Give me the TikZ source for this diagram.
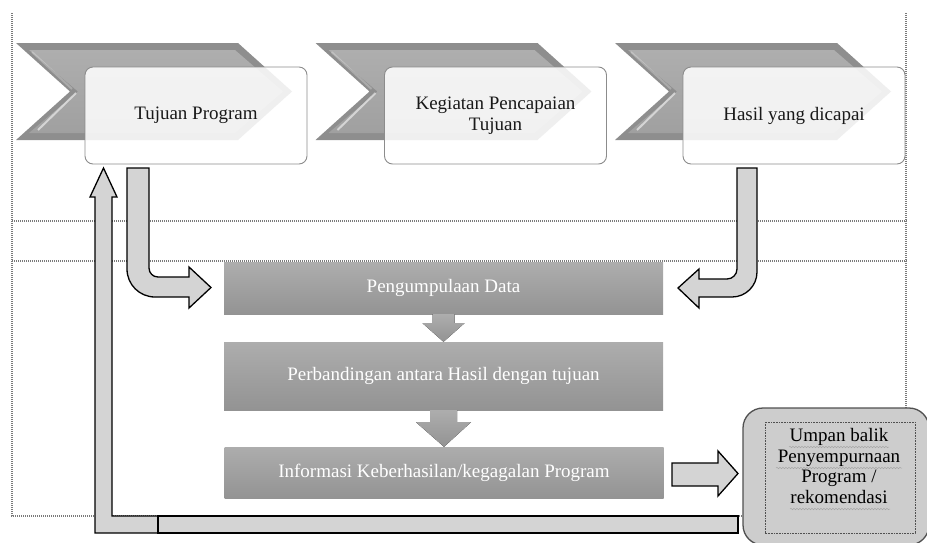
\documentclass[tikz,border=0pt]{standalone}
\usepackage{fontspec}
\setmainfont{Liberation Serif}
\usetikzlibrary{calc,decorations.pathmorphing}
\definecolor{chevdark}{HTML}{8E8E8E}
\definecolor{chevtop}{HTML}{AEAEAE}
\definecolor{chevbot}{HTML}{A0A0A0}
\definecolor{boxtop}{HTML}{ADADAD}
\definecolor{boxbot}{HTML}{939393}
\definecolor{lightarrow}{HTML}{D4D4D4}
\definecolor{umpanfill}{HTML}{CDCDCD}
\definecolor{umpanline}{HTML}{505050}
\definecolor{frameline}{HTML}{7A7A7A}
\definecolor{whiteline}{HTML}{8C8C8C}
\begin{document}
\begin{tikzpicture}[x=1pt,y=-1pt,
  txt/.style={font=\fontsize{19}{20.5}\selectfont},
  dotline/.style={draw=frameline, line width=1.1pt, dash pattern=on 1pt off 1pt},
  whitebox/.style={txt, draw=whiteline, line width=0.9pt, rounded corners=8pt,
     fill=white, fill opacity=0.86, text opacity=1, text=black!90,
     minimum width=222pt, minimum height=97pt, align=center, inner sep=0pt},
  graybox/.style={txt, top color=boxtop, bottom color=boxbot, text=white,
     minimum width=439pt, align=center, inner sep=0pt},
  blockarrow/.style={fill=lightarrow, draw=black, line width=1.3pt, line join=miter},
  downarrow/.style={top color=boxtop, bottom color=boxbot},
  squiggle/.style={draw=gray!70, line width=0.5pt, decorate,
     decoration={snake, amplitude=0.7pt, segment length=3pt}}
]
\useasboundingbox (0,0) rectangle (927,542);

% frame and guide lines
\draw[dotline] (12,13) -- (12,516) -- (743,516);
\draw[dotline] (906,13) -- (906,408);
\draw[dotline] (12,221) -- (907,221);
\draw[dotline] (12,261) -- (907,261);

% chevrons
\foreach \ox in {0,299.5,599}{
  \begin{scope}[xshift=\ox pt]
    \fill[chevdark] (16,43) -- (238,43) -- (292,91.5) -- (238,140) -- (16,140) -- (70,91.5) -- cycle;
    \shade[top color=chevtop, bottom color=chevbot] (29,50) -- (235,50) -- (283,91.5) -- (235,133) -- (29,133) -- (78,91.5) -- cycle;
    \draw[white, opacity=0.55, line width=2pt] (38,130) -- (76,93);
    \draw[white, opacity=0.25, line width=2pt] (32,52) -- (72,89);
  \end{scope}
}

% white boxes
\node[whitebox] (c1) at (196,115.5) {Tujuan Program};
\node[whitebox] (c2) at (495.5,115.5) {Kegiatan Pencapaian\\Tujuan};
\node[whitebox] (c3) at (794,115.5) {Hasil yang dicapai};

% gray process boxes
\node[graybox, minimum height=52pt] (g1) at (443.5,288) {Pengumpulaan Data};
\node[graybox, minimum height=68pt] (g2) at (443.5,376) {Perbandingan antara Hasil dengan tujuan};
\node[graybox, minimum height=51pt] (g3) at (444,472.5) {Informasi Keberhasilan/kegagalan Program};

% down arrows between process boxes
\fill[downarrow] ($(g1.south)+(-11,0)$) -- ($(g1.south)+(11,0)$) -- ($(g1.south)+(11,9)$)
  -- ($(g1.south)+(21,9)$) -- (g2.north) -- ($(g1.south)+(-21,9)$) -- ($(g1.south)+(-11,9)$) -- cycle;
\fill[downarrow] ($(g2.south)+(-13.5,0)$) -- ($(g2.south)+(13.5,0)$) -- ($(g2.south)+(13.5,12)$)
  -- ($(g2.south)+(27.5,12)$) -- (g3.north) -- ($(g2.south)+(-27.5,12)$) -- ($(g2.south)+(-13.5,12)$) -- cycle;

% bent arrow from Tujuan Program to Pengumpulaan Data
\coordinate (lt) at (138,168);
\coordinate (ltip) at (211,287.5);
\draw[blockarrow] ($(lt)+(-11,0)$) -- ($(lt)+(11,0)$) -- (149,268)
  .. controls (149,273) and (153,277) .. (158,277) -- (189,277) -- (189,267) -- (ltip)
  -- (189,308) -- (189,297) -- (155,297) .. controls (139.5,297) and (127,284.5) .. (127,269) -- cycle;

% bent arrow from Hasil yang dicapai to Pengumpulaan Data
\coordinate (rt) at (747,168);
\coordinate (rtip) at (678,288);
\draw[blockarrow] ($(rt)+(10,0)$) -- ($(rt)+(-10,0)$) -- (737,269)
  .. controls (737,274.5) and (732.5,279) .. (727,279) -- (699,279) -- (699,269) -- (rtip)
  -- (699,308) -- (699,297) -- (732,297) .. controls (745.8,297) and (757,285.8) .. (757,272) -- cycle;

% Umpan balik box
\draw[fill=umpanfill, draw=umpanline, line width=1.3pt, rounded corners=20pt] (743,408) rectangle (929,545);
\draw[umpanline, line width=0.6pt, dash pattern=on 0.8pt off 0.8pt] (765,422) rectangle (915,533);
\node[txt, align=center, inner sep=0pt, font=\fontsize{19}{20.7}\selectfont] (umpan) at (839,466)
  {Umpan balik\\Penyempurnaan\\Program /\\rekomendasi};
\draw[squiggle] (789,447) -- (889,447);
\draw[squiggle] (776,468) -- (902,468);
\draw[squiggle] (790,509) -- (890,509);

% arrow from Informasi to Umpan balik
\coordinate (itip) at (738,473.5);
\draw[blockarrow] (672,463) -- (718,463) -- (718,451) -- (itip) -- (718,496) -- (718,486) -- (672,486) -- cycle;

% feedback arrow back to Tujuan Program
\coordinate (ftip) at (103.5,168);
\draw[blockarrow] (95,533) -- (95,197) -- (90,197) -- (ftip) -- (117,197) -- (112,197)
  -- (112,516) -- (158,516) -- (158,533) -- cycle;
\draw[blockarrow] (158,516) rectangle (738,533);
\end{tikzpicture}
\end{document}
